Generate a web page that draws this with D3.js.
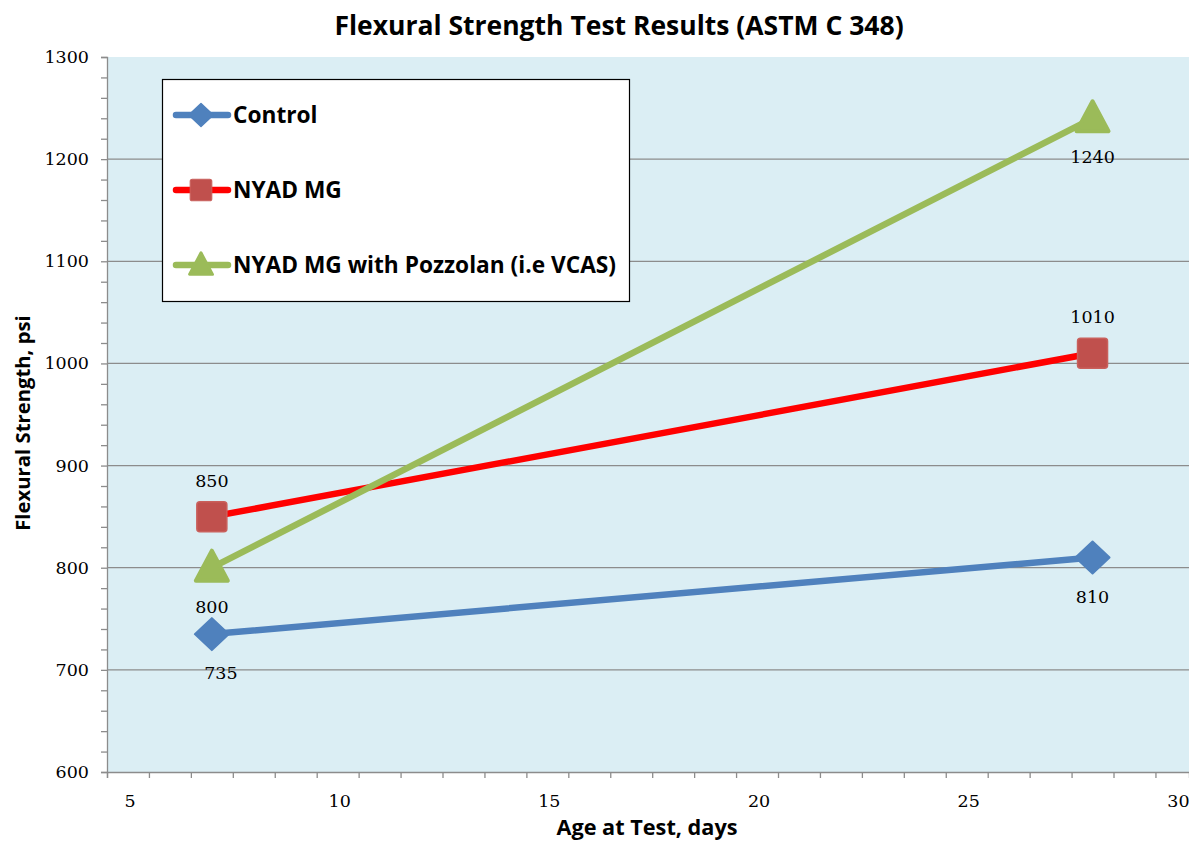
<!DOCTYPE html>
<html><head><meta charset="utf-8">
<script src="https://cdn.jsdelivr.net/npm/d3@7"></script>
<style>body{margin:0;background:#fff}</style>
</head><body>
<svg id="c" width="1189" height="842"></svg>
<script>
const days = [7, 28];
const seriesNames = ["Control", "NYAD MG", "NYAD MG with Pozzolan (i.e VCAS)"];
const controlValues = [735, 810];
const nyadValues = [850, 1010];
const pozzolanValues = [800, 1240];
const xTickLabels = [5, 10, 15, 20, 25, 30];
const yTickLabels = [600, 700, 800, 900, 1000, 1100, 1200, 1300];

const series = [
  {name: seriesNames[0], values: controlValues, line: "#4F81BD", fill: "#4F81BD", shape: "diamond", labelPos: ["below", "below"]},
  {name: seriesNames[1], values: nyadValues, line: "#FF0000", fill: "#C0504D", shape: "square", labelPos: ["above", "above"]},
  {name: seriesNames[2], values: pozzolanValues, line: "#9BBB59", fill: "#9BBB59", shape: "triangle", labelPos: ["below", "below"]}
];

const svg = d3.select("#c");
const L = 107, R = 1189, T = 57, B = 772;
const x = d3.scaleLinear().domain([4.5, 30.3]).range([L, R]);
const y = d3.scaleLinear().domain([600, 1300]).range([B, T]);
const numFont = "DejaVu Serif", numSize = 17.5;
const txtFont = "Open Sans";

svg.append("rect").attr("x", L).attr("y", T).attr("width", R - L).attr("height", B - T).attr("fill", "#DBEEF4");

// gridlines
svg.append("g").selectAll("line").data(yTickLabels.slice(1, -1)).join("line")
  .attr("x1", L).attr("x2", R).attr("y1", d => y(d)).attr("y2", d => y(d))
  .attr("stroke", "#8C8C8C").attr("stroke-width", 1.3);

// Y axis
const yAxis = svg.append("g").attr("transform", `translate(${L},0)`)
  .call(d3.axisLeft(y).tickValues(d3.range(600, 1301, 20)).tickSize(6).tickFormat(""));
yAxis.select(".domain").attr("stroke", "#8C8C8C").attr("stroke-width", 1.3);
yAxis.selectAll(".tick line").attr("stroke", "#8C8C8C").attr("stroke-width", 1.3);
svg.append("g").selectAll("text").data(yTickLabels).join("text")
  .attr("x", 89).attr("y", d => y(d) + 6).attr("text-anchor", "end")
  .attr("font-family", numFont).attr("font-size", numSize).attr("fill", "#000").text(d => d);

// X axis
const xAxis = svg.append("g").attr("transform", `translate(0,${B})`)
  .call(d3.axisBottom(x).tickValues(d3.range(4.5, 30.31, 1)).tickSize(6).tickFormat(""));
xAxis.select(".domain").attr("stroke", "#8C8C8C").attr("stroke-width", 1.3);
xAxis.selectAll(".tick line").attr("stroke", "#8C8C8C").attr("stroke-width", 1.3);
svg.append("g").selectAll("text").data(xTickLabels).join("text")
  .attr("x", d => x(d) + 2).attr("y", 807).attr("text-anchor", "middle")
  .attr("font-family", numFont).attr("font-size", numSize).attr("fill", "#000").text(d => d);

function marker(g, shape, fill) {
  if (shape === "diamond") {
    g.append("path").attr("d", "M0,-16 L17,0 L0,16 L-17,0 Z").attr("fill", fill)
      .attr("stroke", fill).attr("stroke-width", 2).attr("stroke-linejoin", "round");
  } else if (shape === "square") {
    g.append("rect").attr("x", -15).attr("y", -15).attr("width", 30).attr("height", 30).attr("rx", 3)
      .attr("fill", fill).attr("stroke", "#C9605C").attr("stroke-width", 1.5);
  } else {
    g.append("path").attr("d", "M0,-17 L16,13 L-16,13 Z").attr("fill", fill)
      .attr("stroke", fill).attr("stroke-width", 4).attr("stroke-linejoin", "round");
  }
}

const line = d3.line().x((d, i) => x(days[i])).y(d => y(d));
series.forEach(s => {
  svg.append("path").attr("d", line(s.values)).attr("fill", "none")
    .attr("stroke", s.line).attr("stroke-width", 6.5).attr("stroke-linecap", "round");
});
series.forEach(s => {
  s.values.forEach((v, i) => {
    const g = svg.append("g").attr("transform", `translate(${x(days[i])},${y(v)})`);
    marker(g, s.shape, s.fill);
  });
});
// data labels
series.forEach(s => {
  s.values.forEach((v, i) => {
    let dx = 0;
    if (s.name === "Control" && i === 0) dx = 9;
    svg.append("text").attr("x", x(days[i]) + dx)
      .attr("y", s.labelPos[i] === "above" ? y(v) - 30 : y(v) + 45)
      .attr("text-anchor", "middle").attr("font-family", numFont).attr("font-size", numSize)
      .attr("fill", "#000").text(v);
  });
});

// title and axis titles
svg.append("text").attr("x", 619).attr("y", 35).attr("text-anchor", "middle")
  .attr("font-family", txtFont).attr("font-weight", "bold").attr("font-size", 26.5).text("Flexural Strength Test Results (ASTM C 348)");
svg.append("text").attr("transform", "translate(30,423) rotate(-90)").attr("text-anchor", "middle")
  .attr("font-family", txtFont).attr("font-weight", "bold").attr("font-size", 20.3).text("Flexural Strength, psi");
svg.append("text").attr("x", 647).attr("y", 835).attr("text-anchor", "middle")
  .attr("font-family", txtFont).attr("font-weight", "bold").attr("font-size", 21.7).text("Age at Test, days");

// legend
const lg = svg.append("g");
lg.append("rect").attr("x", 162.5).attr("y", 79.5).attr("width", 467).attr("height", 222)
  .attr("fill", "#fff").attr("stroke", "#000").attr("stroke-width", 1.2);
series.forEach((s, i) => {
  const cy = 115 + i * 75;
  lg.append("line").attr("x1", 176).attr("x2", 228).attr("y1", cy).attr("y2", cy)
    .attr("stroke", s.line).attr("stroke-width", 6.5).attr("stroke-linecap", "round");
  const g = lg.append("g").attr("transform", `translate(201,${cy}) scale(0.72)`);
  marker(g, s.shape, s.fill);
  lg.append("text").attr("x", 233).attr("y", cy + 8).attr("font-family", txtFont).attr("font-weight", "bold")
    .attr("font-size", 22.7).attr("fill", "#000").text(s.name);
});
</script>
</body></html>
